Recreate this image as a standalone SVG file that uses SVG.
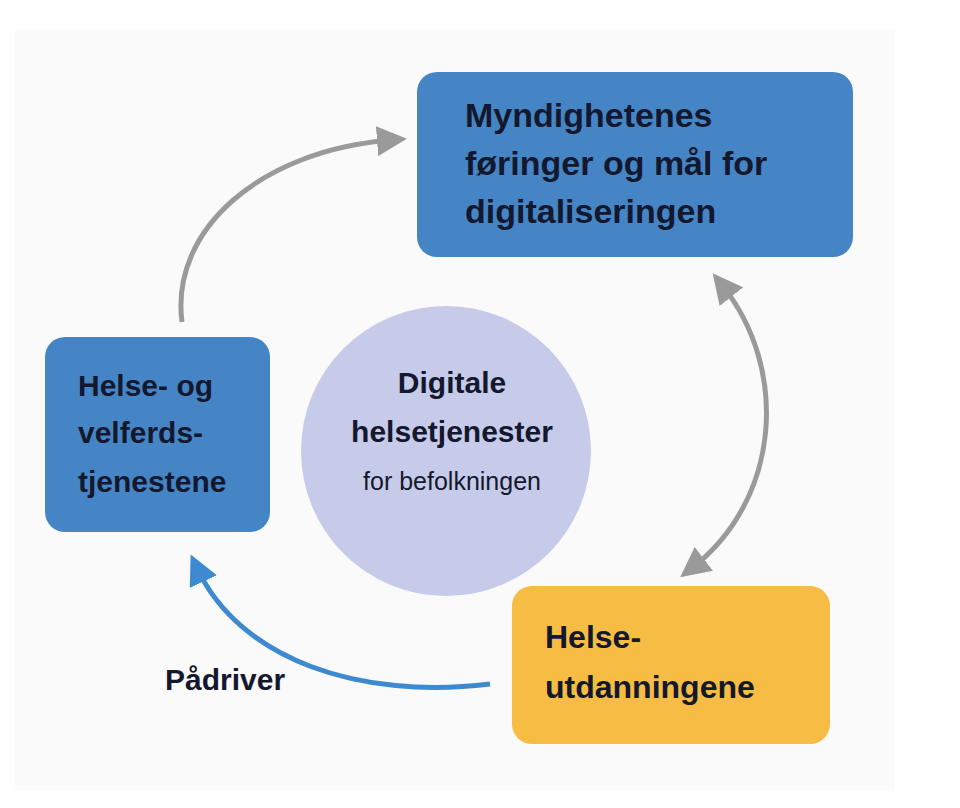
<svg xmlns="http://www.w3.org/2000/svg" width="960" height="808" viewBox="0 0 960 808">
<style>
.box{fill:#4585c5}
.t{font-family:"Liberation Sans",Arial,sans-serif;font-weight:bold;fill:#14182e}
.c{fill:none;stroke-width:5}
</style>
<defs>
<marker id="ag" markerWidth="6" markerHeight="6" refX="3" refY="3" orient="auto-start-reverse" markerUnits="strokeWidth"><path d="M0,0L6,3L0,6Z" fill="#9a9a9a"/></marker>
<marker id="ab" markerWidth="6" markerHeight="6" refX="3" refY="3" orient="auto" markerUnits="strokeWidth"><path d="M0,0L6,3L0,6Z" fill="#3d8ad0"/></marker>
</defs>
<rect width="960" height="808" fill="#fff"/>
<rect x="15" y="30" width="880" height="760" fill="#fafafa"/>
<g id="connectors">
<path class="c" stroke="#9a9a9a" d="M182,322 C170,230 260,150 392,140" marker-end="url(#ag)"/>
<path class="c" stroke="#9a9a9a" d="M722,285 C790,370 780,500 692,568" marker-start="url(#ag)" marker-end="url(#ag)"/>
<path class="c" stroke="#3d8ad0" d="M490,684 C360,700 240,660 197,568" marker-end="url(#ab)"/>
<text class="t" x="165" y="690" font-size="30">Pådriver</text>
</g>
<g id="top">
<rect class="box" x="417" y="72" width="436" height="185" rx="20"/>
<text class="t" font-size="34"><tspan x="465" y="127">Myndighetenes</tspan><tspan x="465" y="175">føringer og mål for</tspan><tspan x="465" y="223">digitaliseringen</tspan></text>
</g>
<g id="left">
<rect class="box" x="45" y="337" width="225" height="195" rx="20"/>
<text class="t" font-size="30"><tspan x="78" y="396">Helse- og</tspan><tspan x="78" y="443">velferds-</tspan><tspan x="78" y="492">tjenestene</tspan></text>
</g>
<g id="center">
<circle cx="446" cy="451" r="145" fill="#c6cbe9"/>
<text class="t" font-size="30" text-anchor="middle"><tspan x="452" y="393">Digitale</tspan><tspan x="452" y="442">helsetjenester</tspan></text>
<text class="t" font-size="25" font-weight="normal" text-anchor="middle" x="452" y="490" style="font-weight:normal">for befolkningen</text>
</g>
<g id="bottom">
<rect x="512" y="586" width="318" height="158" rx="20" fill="#f7bc43"/>
<text class="t" font-size="32"><tspan x="545" y="648">Helse-</tspan><tspan x="545" y="698">utdanningene</tspan></text>
</g>
</svg>
